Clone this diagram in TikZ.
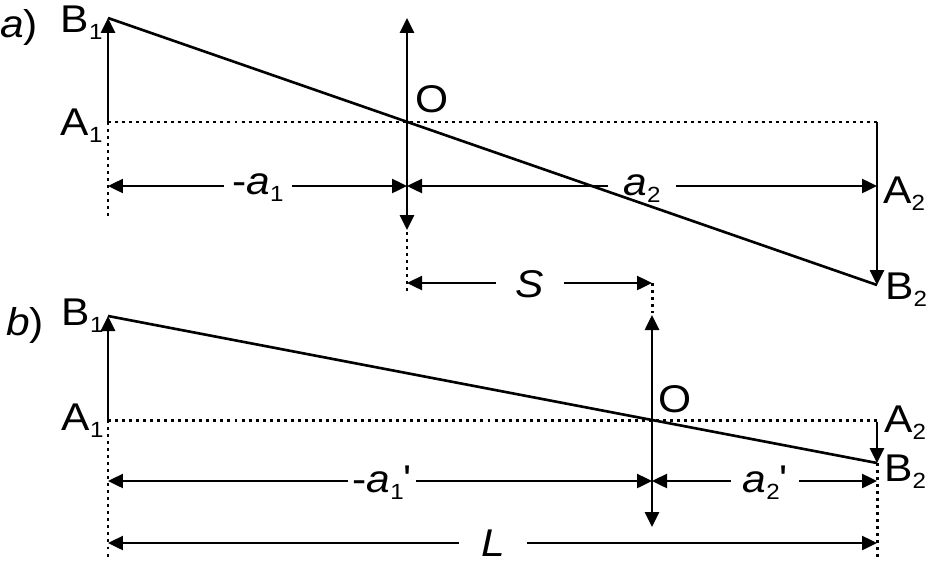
\documentclass[tikz,border=0pt]{standalone}
\usepackage{fontspec}
\setmainfont{Liberation Sans}[FakeStretch=1.1]
\usetikzlibrary{arrows.meta}
\newcommand{\ix}[1]{\raisebox{-4.5pt}{\fontsize{12.5}{14}\selectfont #1}}
\tikzset{
    ray/.style={line width=1.5pt},
    axisline/.style={line width=1.7pt, dash pattern=on 1.7pt off 2.3pt},
    arrowed/.style={ray, -{Triangle[length=0.3cm,width=0.28cm]}},
    twoway/.style={line width=1.4pt, {Triangle[length=0.3cm,width=0.28cm]}-{Triangle[length=0.3cm,width=0.28cm]}},
    lbl/.style={font=\fontsize{22}{26}\selectfont, inner sep=0pt},
    dimlbl/.style={lbl, fill=white, minimum width=1.36cm, inner ysep=3pt},
}
\begin{document}
\begin{tikzpicture}[x=0.02cm, y=-0.02cm]
    \useasboundingbox (0,0) rectangle (926,565);
    % a)
    \coordinate (A1a) at (108,122); \coordinate (B1a) at (108,18);
    \coordinate (Oa) at (407,122); \coordinate (A2a) at (877,122);
    \coordinate (B2a) at (877,285);
    \coordinate (Ta) at (407,18); \coordinate (Ua) at (407,230);
    \coordinate (La) at (108,186); \coordinate (Ma) at (407,186); \coordinate (Ra) at (877,186);
    \coordinate (Sa) at (407,283); \coordinate (Sb) at (652,283);
    \draw[axisline] (A1a) -- (A2a);
    \draw[axisline] (A1a) -- (108,217);
    \draw[axisline] (407,232) -- (407,293);
    \draw[axisline] (Sb) -- (652,313);
    \draw[twoway] (La) -- (Ma);
    \draw[twoway] (Ma) -- (Ra);
    \draw[twoway] (Sa) -- (Sb);
    \node[dimlbl, anchor=base] (da1) at (258,194) {-\textit{a}\ix{1}};
    \node[dimlbl, anchor=base] (da2) at (642,195) {\textit{a}\ix{2}};
    \node[dimlbl, anchor=base] (ds) at (530,297) {\textit{S}};
    \draw[ray] (B1a) -- (B2a);
    \draw[arrowed] (A1a) -- (B1a);
    \draw[arrowed] (A2a) -- (B2a);
    \draw[twoway, line width=1.5pt] (Ta) -- (Ua);
    \node[lbl, anchor=base west] (ta) at (0,37) {\textit{a})};
    \node[lbl, anchor=base east] (nB1a) at (103,32) {B\ix{1}};
    \node[lbl, anchor=base east] (nA1a) at (103,135) {A\ix{1}};
    \node[lbl, anchor=base west] (nOa) at (415,112) {O};
    \node[lbl, anchor=base west] (nA2a) at (883,203) {A\ix{2}};
    \node[lbl, anchor=base west] (nB2a) at (885,299) {B\ix{2}};
    % b)
    \coordinate (A1b) at (108,420); \coordinate (B1b) at (108,316);
    \coordinate (Ob) at (652,420); \coordinate (A2b) at (877,420);
    \coordinate (A2s) at (877,422); \coordinate (B2b) at (877,463);
    \coordinate (Tb) at (652,315); \coordinate (Ub) at (652,527);
    \coordinate (Lb) at (108,481); \coordinate (Mb) at (652,481); \coordinate (Rb) at (877,481);
    \coordinate (LL) at (108,543); \coordinate (LR) at (877,543);
    \draw[axisline] (A1b) -- (A2b);
    \draw[axisline] (A1b) -- (108,557);
    \draw[axisline] (B2b) -- (877,557);
    \draw[twoway] (Lb) -- (Mb);
    \draw[twoway] (Mb) -- (Rb);
    \draw[twoway] (LL) -- (LR);
    \node[dimlbl, anchor=base] (db1) at (382,492) {-\textit{a}\ix{1}\textquotesingle};
    \node[dimlbl, anchor=base] (db2) at (765,492) {\textit{a}\ix{2}\textquotesingle};
    \node[dimlbl, anchor=base] (dL) at (493,556) {\textit{L}};
    \draw[ray] (B1b) -- (B2b);
    \draw[arrowed] (A1b) -- (B1b);
    \draw[arrowed] (A2s) -- (B2b);
    \draw[twoway, line width=1.5pt] (Tb) -- (Ub);
    \node[lbl, anchor=base west] (tb) at (6,335) {\textit{b})};
    \node[lbl, anchor=base east] (nB1b) at (104,325) {B\ix{1}};
    \node[lbl, anchor=base east] (nA1b) at (104,430) {A\ix{1}};
    \node[lbl, anchor=base west] (nOb) at (658,412) {O};
    \node[lbl, anchor=base west] (nA2b) at (884,432) {A\ix{2}};
    \node[lbl, anchor=base west] (nB2b) at (884,481) {B\ix{2}};
\end{tikzpicture}
\end{document}
